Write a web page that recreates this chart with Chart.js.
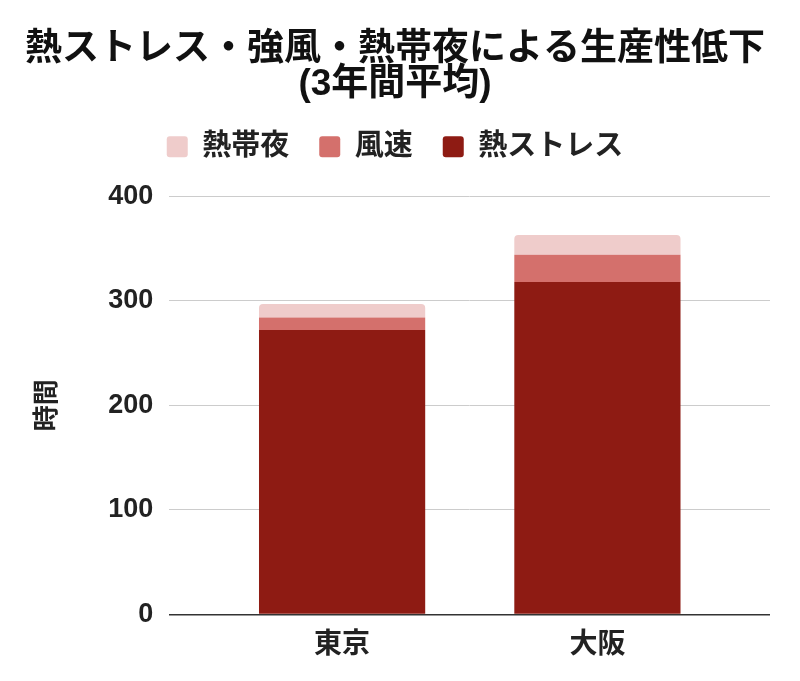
<!DOCTYPE html>
<html>
<head>
<meta charset="utf-8">
<script src="https://cdn.jsdelivr.net/npm/chart.js@4"></script>
<style>
  body { margin: 0; background: #fff; }
  #wrap { width: 800px; height: 681px; }
</style>
</head>
<body>
<div id="wrap"><canvas id="myChart"></canvas></div>
<script>
// chart data
const categories = ["東京", "大阪"];
const heatStress = [272, 318];   // 熱ストレス
const windSpeed = [12, 26];      // 風速
const tropicalNight = [13, 19];  // 熱帯夜
const yTicks = [0, 100, 200, 300, 400];

const fontFamily = "'Liberation Sans', 'Noto Sans CJK JP', sans-serif";
Chart.defaults.font.family = fontFamily;
Chart.defaults.color = "#222";

// x is a linear scale so the category centres can sit inside the wider gridlines
function toPoints(values) {
    return values.map((v, i) => ({ x: i, y: v }));
}

// extra space under the legend
const legendGap = {
    id: 'legendGap',
    beforeInit(chart) {
        const origFit = chart.legend.fit;
        chart.legend.fit = function() {
            origFit.bind(chart.legend)();
            this.height += 25;
        };
    }
};

const ctx = document.getElementById('myChart');
const myChart = new Chart(ctx, {
    type: 'bar',
    plugins: [legendGap],
    data: {
        datasets: [
            {
                label: '熱ストレス',
                data: toPoints(heatStress),
                backgroundColor: '#8e1b13',
            },
            {
                label: '風速',
                data: toPoints(windSpeed),
                backgroundColor: '#d4706c',
            },
            {
                label: '熱帯夜',
                data: toPoints(tropicalNight),
                backgroundColor: '#efcccb',
                borderRadius: {topLeft: 4, topRight: 4},
                borderSkipped: 'bottom',
            },
        ],
    },
    options: {
        responsive: true,
        maintainAspectRatio: false,
        animation: false,
        datasets: {
            bar: {
                barPercentage: 0.651,
                categoryPercentage: 1,
            }
        },
        layout: {
            padding: {left: 20, right: 30, top: 0, bottom: 13}
        },
        scales: {
            x: {
                type: 'linear',
                stacked: true,
                offset: false,
                min: -0.677,
                max: 1.676,
                afterBuildTicks: function(axis) {
                    axis.ticks = categories.map((c, i) => ({ value: i }));
                },
                grid: { display: false },
                border: { display: false },
                ticks: {
                    color: '#222',
                    font: { size: 28, weight: 'bold' },
                    padding: 6,
                    callback: function(value) {
                        return categories[value];
                    },
                },
            },
            y: {
                stacked: true,
                min: 0,
                max: 400,
                afterBuildTicks: function(axis) {
                    axis.ticks = yTicks.map(v => ({ value: v }));
                },
                border: { display: false },
                grid: {
                    drawTicks: false,
                    color: function(c) {
                        return c.tick && c.tick.value === 0 ? '#333' : '#cccccc';
                    },
                    lineWidth: function(c) {
                        return c.tick && c.tick.value === 0 ? 1.5 : 1;
                    },
                },
                ticks: {
                    color: '#222',
                    font: { size: 27, weight: 'bold' },
                    padding: 16,
                },
                title: {
                    display: true,
                    text: '時間',
                    color: '#222',
                    font: { size: 26, weight: 'bold' },
                    padding: { top: 12, bottom: 29 },
                },
            },
        },
        plugins: {
            legend: {
                position: 'top',
                reverse: true,
                labels: {
                    boxWidth: 21,
                    boxHeight: 21,
                    useBorderRadius: true,
                    borderRadius: 3,
                    color: '#222',
                    padding: 30,
                    font: { size: 29, weight: 'bold' },
                },
            },
            title: {
                display: true,
                text: ['熱ストレス・強風・熱帯夜による生産性低下', '(3年間平均)'],
                color: '#111',
                font: { size: 37, weight: 'bold', lineHeight: 0.95 },
                padding: { top: 32, bottom: 0 },
            },
            tooltip: { enabled: false },
        },
    },
});
</script>
</body>
</html>
